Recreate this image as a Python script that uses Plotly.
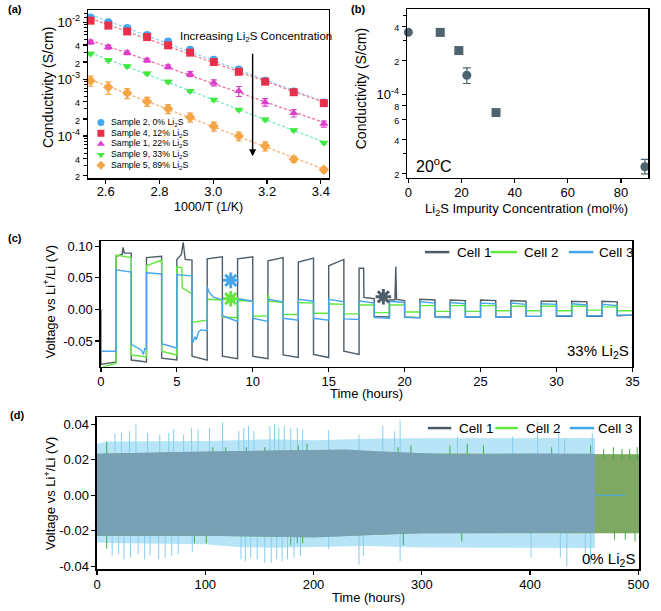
import numpy as np
import plotly.graph_objects as go

W, H = 661, 611
FONT = "Liberation Sans, Arial, Helvetica, sans-serif"

def px(x):
    return x / W

def py(y):
    return 1 - y / H

# ---------------- (a) conductivity vs 1000/T ----------------
inv_T = [2.544, 2.610, 2.680, 2.754, 2.832, 2.914, 3.002, 3.095, 3.193, 3.299, 3.411]
sig_s2 = [1.22e-2, 1.00e-2, 7.9e-3, 6.0e-3, 4.6e-3, 3.3e-3, 2.2e-3, 1.48e-3, 9.4e-4, 6.1e-4, 3.9e-4]
sig_s4 = [1.07e-2, 8.75e-3, 6.9e-3, 5.5e-3, 3.93e-3, 2.93e-3, 2.0e-3, 1.35e-3, 9.05e-4, 5.9e-4, 3.8e-4]
sig_s1 = [4.5e-3, 3.67e-3, 2.93e-3, 2.16e-3, 1.65e-3, 1.23e-3, 8.7e-4, 6.2e-4, 3.95e-4, 2.55e-4, 1.64e-4]
sig_s9 = [2.81e-3, 2.16e-3, 1.69e-3, 1.26e-3, 9.05e-4, 6.2e-4, 4.35e-4, 2.91e-4, 1.95e-4, 1.27e-4, 7.65e-5]
sig_s5 = [9.4e-4, 7.2e-4, 5.7e-4, 4.06e-4, 3.03e-4, 2.14e-4, 1.49e-4, 1.0e-4, 6.7e-5, 3.93e-5, 2.56e-5]
relerr_s2 = [0.04] * 11
relerr_s4 = [0.05] * 11
relerr_s1 = [0.08, 0.08, 0.08, 0.08, 0.08, 0.10, 0.12, 0.20, 0.15, 0.15, 0.12]
relerr_s9 = [0.05] * 11
relerr_s5 = [0.20, 0.25, 0.20, 0.18, 0.18, 0.18, 0.18, 0.18, 0.18, 0.12, 0.10]
labels_a = ["Sample 2, 0% Li<sub>2</sub>S", "Sample 4, 12% Li<sub>2</sub>S",
            "Sample 1, 22% Li<sub>2</sub>S", "Sample 9, 33% Li<sub>2</sub>S",
            "Sample 5, 89% Li<sub>2</sub>S"]
xticks_a = [2.6, 2.8, 3.0, 3.2, 3.4]

# ---------------- (b) conductivity vs Li2S content ----------------
conc_b = [0, 12, 19, 22, 33, 89]
sig_b = [3.56e-4, 3.55e-4, 2.45e-4, 1.48e-4, 6.9e-5, 2.28e-5]
err_b_plus = [0, 2.0e-5, 1.2e-5, 2.4e-5, 3e-6, 3.7e-6]
err_b_minus = [0, 2.0e-5, 1.2e-5, 2.3e-5, 3e-6, 3.1e-6]
sym_b = ["circle", "square", "square", "circle", "square", "circle"]
xticks_b = [0, 20, 40, 60, 80]

# ---------------- (c) 33% Li2S cycling (per 1 h half-cycle start/end) ----------------
c1_start = [-0.087, 0.084, -0.080, 0.082, -0.077, 0.079, -0.074, 0.080, -0.074, 0.080,
            -0.074, 0.077, -0.072, 0.075, -0.071, 0.069, -0.066, 0.065, -0.011, 0.015,
            -0.012, 0.016, -0.012, 0.015, -0.012, 0.015, -0.012, 0.014, -0.011, 0.013,
            -0.011, 0.013, -0.011, 0.013, -0.010]
c1_end = [-0.083, 0.089, -0.083, 0.084, -0.080, 0.078, -0.080, 0.083, -0.078, 0.083,
          -0.078, 0.082, -0.076, 0.081, -0.076, 0.079, -0.071, 0.017, -0.012, 0.014,
          -0.013, 0.015, -0.012, 0.014, -0.012, 0.014, -0.012, 0.013, -0.011, 0.013,
          -0.011, 0.012, -0.011, 0.012, -0.009]
c1_extra = {1: [(1.40, 0.087), (1.46, 0.098), (1.54, 0.089)],
            5: [(5.30, 0.087), (5.42, 0.106), (5.55, 0.079)],
            17: [(17.30, 0.065), (17.32, 0.019)],
            19: [(19.36, 0.015), (19.42, 0.068), (19.47, 0.016)]}
c2_start = [-0.092, 0.086, -0.072, 0.069, -0.066, 0.067, -0.020, 0.016, -0.012, 0.014,
            -0.011, 0.012, -0.008, 0.011, -0.006, 0.009, -0.007, 0.007, -0.005, 0.007,
            -0.004, 0.006, -0.003, 0.006, -0.003, 0.006, -0.002, 0.005, -0.002, 0.005,
            -0.002, 0.005, -0.001, 0.004, -0.002]
c2_end = [-0.085, 0.082, -0.075, 0.078, -0.072, 0.025, -0.017, 0.015, -0.013, 0.013,
          -0.010, 0.011, -0.008, 0.010, -0.006, 0.008, -0.007, 0.007, -0.005, 0.007,
          -0.004, 0.006, -0.003, 0.006, -0.003, 0.006, -0.002, 0.005, -0.002, 0.005,
          -0.002, 0.005, -0.001, 0.004, -0.002]
c2_extra = {5: [(5.33, 0.066), (5.35, 0.034)],
            11: [(11.03, 0.024), (11.10, 0.013)]}
c3_start = [-0.066, 0.0625, -0.055, 0.058, -0.054, 0.055, -0.048, 0.036, -0.010, 0.017,
            -0.014, 0.016, -0.014, 0.016, -0.014, 0.016, -0.015, 0.0135, -0.013, 0.013,
            -0.013, 0.012, -0.012, 0.011, -0.012, 0.010, -0.012, 0.010, -0.011, 0.009,
            -0.010, 0.009, -0.010, 0.008, -0.009]
c3_end = [-0.066, 0.059, -0.062, 0.056, -0.061, 0.053, -0.034, 0.015, -0.019, 0.013,
          -0.019, 0.012, -0.017, 0.013, -0.017, 0.012, -0.016, 0.010, -0.014, 0.011,
          -0.013, 0.010, -0.013, 0.009, -0.012, 0.009, -0.012, 0.008, -0.011, 0.008,
          -0.010, 0.007, -0.010, 0.006, -0.009]
c3_extra = {2: [(2.65, -0.064), (2.80, -0.071), (2.88, -0.062)],
            6: [(6.08, -0.052), (6.18, -0.043), (6.28, -0.048), (6.42, -0.036), (6.60, -0.032)],
            7: [(7.12, 0.027), (7.45, 0.019)]}
star_t = [8.55, 8.55, 18.6]
star_v = [0.046, 0.017, 0.020]
xticks_c = [0, 5, 10, 15, 20, 25, 30, 35]
yticks_c = [-0.05, 0.0, 0.05, 0.10]
yticktext_c = ["-0.05", "0.00", "0.05", "0.10"]

# ---------------- (d) 0% Li2S long cycling (envelopes + spikes) ----------------
d1_t = [0, 10, 100, 150, 200, 230, 260, 300, 330, 400, 460]
d1_up = [0.0233, 0.0235, 0.0246, 0.0250, 0.0257, 0.0257, 0.0248, 0.0235, 0.0229, 0.0235, 0.0233]
d1_lo = [-0.0228, -0.0228, -0.0228, -0.0232, -0.0237, -0.0228, -0.0222, -0.0213, -0.0212, -0.0210, -0.0210]
d2_t = [0, 100, 200, 300, 400, 460, 501]
d2_up = [0.0233, 0.0245, 0.0255, 0.0235, 0.0233, 0.0231, 0.0231]
d2_lo = [-0.0228, -0.0228, -0.0235, -0.0213, -0.0210, -0.0213, -0.0213]
d3_t = [0, 10, 100, 130, 160, 200, 250, 300, 400, 460]
d3_up = [0.0290, 0.0303, 0.0305, 0.0310, 0.0315, 0.0310, 0.0318, 0.0320, 0.0322, 0.0322]
d3_lo = [-0.0265, -0.0268, -0.0275, -0.0290, -0.0295, -0.0290, -0.0285, -0.0293, -0.0296, -0.0296]
spk3_t = [16.6, 22.6, 30, 36, 46.7, 58, 66.3, 70.8, 80, 87.4, 93.4, 104, 116, 131, 135.6, 140,
          145, 159.7, 164, 168, 173, 179, 185, 190, 214, 242, 264, 275, 280, 333, 384, 407,
          426.5, 432, 457.5,
          14, 20, 25, 31, 38, 44, 49, 57, 63, 69, 75, 88, 133, 137, 142, 148, 155, 161, 166,
          171, 176, 182, 188, 214, 242, 246, 280, 401, 428, 434, 451, 456]
spk3_v = [0.035, 0.035, 0.036, 0.040, 0.035, 0.034, 0.035, 0.037, 0.034, 0.038, 0.037, 0.038,
          0.041, 0.036, 0.038, 0.039, 0.036, 0.039, 0.040, 0.038, 0.039, 0.038, 0.038, 0.037,
          0.0365, 0.034, 0.039, 0.036, 0.042, 0.033, 0.033, 0.041, 0.039, 0.032, 0.035,
          -0.034, -0.033, -0.036, -0.035, -0.033, -0.036, -0.034, -0.036, -0.035, -0.034,
          -0.033, -0.032, -0.036, -0.037, -0.035, -0.036, -0.038, -0.038, -0.036, -0.037,
          -0.036, -0.035, -0.034, -0.030, -0.039, -0.034, -0.037, -0.035, -0.035, -0.040,
          -0.034, -0.039]
spk2_t = [9, 107, 119, 138, 155, 186, 194, 278, 290, 326, 342, 357, 420, 456, 468, 477, 485,
          492, 499, 9, 90, 101, 179, 185, 190, 283, 337, 478, 488, 497]
spk2_v = [0.030, 0.027, 0.027, 0.027, 0.027, 0.028, 0.029, 0.027, 0.028, 0.028, 0.029, 0.028,
          0.027, 0.028, 0.026, 0.027, 0.026, 0.026, 0.027, -0.030, -0.027, -0.027, -0.028,
          -0.027, -0.027, -0.028, -0.026, -0.025, -0.025, -0.026]
d3_tail_t = [460, 488]
d3_tail_v = [0.0, 0.0]
xticks_d = [0, 100, 200, 300, 400, 500]
yticks_d = [-0.04, -0.02, 0.0, 0.02, 0.04]
yticktext_d = ["-0.04", "-0.02", "0.00", "0.02", "0.04"]

# ---------------- colours ----------------
col_a = ["#3fa9f5", "#e8304a", "#dd3fcc", "#3ee83e", "#f5a545"]
col_a_fit = ["#8fd2f6", "#f27f8f", "#ee6fa8", "#7ae6cf", "#f5b070"]
sym_a = ["circle", "square", "triangle-up", "triangle-down", "diamond"]
C_GRAY, C_GREEN, C_BLUE = "#4f5d69", "#62e83c", "#45a6ec"
C_B = "#4d6470"

fig = go.Figure()

# ---- (a)
series_a = [sig_s2, sig_s4, sig_s1, sig_s9, sig_s5]
errs_a = [relerr_s2, relerr_s4, relerr_s1, relerr_s9, relerr_s5]
for i, ys in enumerate(series_a):
    coef = np.polyfit(inv_T, np.log10(ys), 1)
    xf = np.array([min(inv_T), max(inv_T)])
    fig.add_trace(go.Scatter(x=xf, y=10 ** np.polyval(coef, xf), mode="lines",
                             line=dict(color=col_a_fit[i], width=1.3, dash="3px,2px"),
                             xaxis="x", yaxis="y", showlegend=False, hoverinfo="skip"))
for i, ys in enumerate(series_a):
    err = [v * r for v, r in zip(ys, errs_a[i])]
    fig.add_trace(go.Scatter(x=inv_T, y=ys, mode="markers", cliponaxis=False,
                             marker=dict(symbol=sym_a[i], size=8, color=col_a[i]),
                             error_y=dict(type="data", array=err, color=col_a[i], thickness=1.2, width=3),
                             xaxis="x", yaxis="y", showlegend=False, name=labels_a[i]))

# ---- (b)
fig.add_trace(go.Scatter(x=conc_b, y=sig_b, mode="markers", cliponaxis=False,
                         marker=dict(symbol=sym_b, size=9, color=C_B),
                         error_y=dict(type="data", array=err_b_plus, arrayminus=err_b_minus,
                                      color=C_B, thickness=1.2, width=4),
                         xaxis="x2", yaxis="y2", showlegend=False))

# ---- (c)
def build_wave(starts, ends, extras, pre=None):
    xs, ys = [], []
    if pre is not None:
        xs.append(pre[0]); ys.append(pre[1])
    for k, (s, e) in enumerate(zip(starts, ends)):
        xs.append(k); ys.append(s)
        for (t, v) in extras.get(k, []):
            xs.append(t); ys.append(v)
        xs.append(k + 1); ys.append(e)
    return xs, ys

for starts, ends, extras, col, pre in [(c1_start, c1_end, c1_extra, C_GRAY, (0, 0.0)),
                                       (c2_start, c2_end, c2_extra, C_GREEN, None),
                                       (c3_start, c3_end, c3_extra, C_BLUE, None)]:
    xs, ys = build_wave(starts, ends, extras, pre)
    fig.add_trace(go.Scatter(x=xs, y=ys, mode="lines", line=dict(color=col, width=1.4),
                             xaxis="x3", yaxis="y3", showlegend=False, hoverinfo="skip"))
star_cols = [C_BLUE, C_GREEN, C_GRAY]
fig.add_trace(go.Scatter(x=star_t, y=star_v, mode="markers", cliponaxis=False,
                         marker=dict(symbol="asterisk-open", size=13, color=star_cols,
                                     line=dict(color=star_cols, width=3)),
                         xaxis="x3", yaxis="y3", showlegend=False, hoverinfo="skip"))

# ---- (d)
def band(t, up, lo, color):
    return go.Scatter(x=list(t) + list(t)[::-1], y=list(up) + list(lo)[::-1], fill="toself",
                      fillcolor=color, line=dict(width=0), mode="lines",
                      xaxis="x4", yaxis="y4", showlegend=False, hoverinfo="skip")

def spikes(ts, vs, color):
    xs, ys = [], []
    for t, v in zip(ts, vs):
        base = 0.02 if v > 0 else -0.02
        xs += [t, t, None]; ys += [base, v, None]
    return go.Scatter(x=xs, y=ys, mode="lines", line=dict(color=color, width=1),
                      xaxis="x4", yaxis="y4", showlegend=False, hoverinfo="skip")

fig.add_trace(band(d3_t, d3_up, d3_lo, "#b7e4f6"))
fig.add_trace(spikes(spk3_t, spk3_v, "#86cdf0"))
fig.add_trace(band(d2_t, d2_up, d2_lo, "#7ea864"))
fig.add_trace(spikes(spk2_t, spk2_v, "#3fae45"))
fig.add_trace(band(d1_t, d1_up, d1_lo, "#78a1b5"))
fig.add_trace(go.Scatter(x=d3_tail_t, y=d3_tail_v, mode="lines", line=dict(color=C_BLUE, width=1),
                         xaxis="x4", yaxis="y4", showlegend=False, hoverinfo="skip"))

# ---- legend markers for (a) on a full-page overlay axis
leg_x = [99] * 5
leg_y = [122, 132.8, 143.6, 154.4, 165.2]
fig.add_trace(go.Scatter(x=leg_x, y=leg_y, mode="markers",
                         marker=dict(symbol=sym_a, size=7, color=col_a),
                         xaxis="x5", yaxis="y5", showlegend=False, hoverinfo="skip"))

# ---------------- axes ----------------
def axc(**kw):
    d = dict(showline=True, linecolor="black", linewidth=1.5, mirror=True,
             ticks="outside", ticklen=4, tickwidth=1.2, tickcolor="black",
             showgrid=False, zeroline=False, fixedrange=True,
             tickfont=dict(family=FONT, size=13, color="black"))
    d.update(kw)
    return d

def small(s):
    return '<span style="font-size:9px">%s</span>' % s

ytv_a = [2e-5, 4e-5, 1e-4, 2e-4, 4e-4, 1e-3, 2e-3, 4e-3, 1e-2]
ytt_a = [small("2"), small("4"), "10<sup>-4</sup>", small("2"), small("4"), "10<sup>-3</sup>",
         small("2"), small("4"), "10<sup>-2</sup>"]
minor_a = [m * 10.0 ** e for e in (-5, -4, -3) for m in (3, 5, 6, 7, 8, 9)] + [1.2e-2, 1.4e-2]
ytv_b = [2e-5, 4e-5, 6e-5, 8e-5, 1e-4, 2e-4, 4e-4]
ytt_b = [small("2"), small("4"), small("6"), small("8"), "10<sup>-4</sup>", small("2"), small("4")]

fig.update_layout(
    width=W, height=H, margin=dict(l=0, r=0, t=0, b=0),
    paper_bgcolor="white", plot_bgcolor="rgba(0,0,0,0)",
    font=dict(family=FONT, size=13, color="black"),
    xaxis=axc(domain=[px(86), px(332)], anchor="y", range=[2.535, 3.430],
              tickvals=xticks_a, ticktext=["%.1f" % v for v in xticks_a], ticklabelstandoff=-3),
    yaxis=axc(domain=[py(178.3), py(8.5)], anchor="x", type="log", range=[-4.741, -1.791],
              tickvals=ytv_a, ticktext=ytt_a,
              minor=dict(tickmode="array", tickvals=minor_a, ticks="outside", ticklen=2.5,
                         tickcolor="black", tickwidth=1)),
    xaxis2=axc(domain=[px(412), px(658)], anchor="y2", range=[-0.4, 90.2],
               tickvals=xticks_b, ticktext=[str(v) for v in xticks_b], ticklabelstandoff=-2),
    yaxis2=axc(domain=[py(178), py(7.5)], anchor="x2", type="log", range=[-4.741, -3.246],
               tickvals=ytv_b, ticktext=ytt_b,
               minor=dict(tickmode="array", tickvals=[3e-5, 3e-4, 5e-4], ticks="outside",
                          ticklen=3, tickcolor="black", tickwidth=1)),
    xaxis3=axc(domain=[px(99), px(642)], anchor="y3", range=[0, 35],
               tickvals=xticks_c, ticktext=[str(v) for v in xticks_c], ticklabelstandoff=-2),
    yaxis3=axc(domain=[py(369), py(242)], anchor="x3", range=[-0.0906, 0.1078],
               tickvals=yticks_c, ticktext=yticktext_c),
    xaxis4=axc(domain=[px(95), px(649)], anchor="y4", range=[0, 500.9],
               tickvals=xticks_d, ticktext=[str(v) for v in xticks_d], ticklabelstandoff=-2),
    yaxis4=axc(domain=[py(574), py(420)], anchor="x4", range=[-0.04167, 0.0439],
               tickvals=yticks_d, ticktext=yticktext_d),
    xaxis5=dict(domain=[0, 1], range=[0, W], visible=False, fixedrange=True, anchor="y5"),
    yaxis5=dict(domain=[0, 1], range=[H, 0], visible=False, fixedrange=True, anchor="x5"),
    showlegend=False,
)

ann = []
def text(x, y, s, size=13, xanchor="center", yanchor="middle", angle=0, color="black", bold=False):
    if bold:
        s = "<b>%s</b>" % s
    ann.append(dict(x=px(x), y=py(y), xref="paper", yref="paper", text=s, showarrow=False,
                    xanchor=xanchor, yanchor=yanchor, textangle=angle,
                    font=dict(family=FONT, size=size, color=color)))

# panel labels
text(2, 7, "(a)", 11, xanchor="left", bold=True)
text(352, 7, "(b)", 11, xanchor="left", bold=True)
text(2, 239, "(c)", 11, xanchor="left", bold=True)
text(4, 418, "(d)", 11, xanchor="left", bold=True)
# axis titles
text(45, 87, "Conductivity (S/cm)", 14, angle=-90)
text(209, 207, "1000/T (1/K)", 12.5)
text(365, 88, "Conductivity (S/cm)", 14, angle=-90)
text(534, 210, "Li<sub>2</sub>S Impurity Concentration (mol%)", 13)
text(46, 303, "Voltage vs Li<sup>+</sup>/Li (V)", 13, angle=-90)
text(370, 396, "Time (hours)", 13)
text(47, 497, "Voltage vs Li<sup>+</sup>/Li (V)", 13, angle=-90)
text(372, 602, "Time (hours)", 13)
# (a) annotation + legend text
text(257, 35, "Increasing Li<sub>2</sub>S Concentration", 11.5)
for yy, lab in zip(leg_y, labels_a):
    text(107, yy, lab, 8.7, xanchor="left")
ann.append(dict(x=px(254), y=py(156), xref="paper", yref="paper", text="", showarrow=True,
                ax=0, ay=-104, arrowhead=2, arrowsize=1, arrowwidth=1.4, arrowcolor="black"))
# (b)
text(419, 165, "20<sup>o</sup>C", 16, xanchor="left")
# (c)
text(641, 354, "33% Li<sub>2</sub>S", 15, xanchor="right")
# (d)
text(647, 564, "0% Li<sub>2</sub>S", 15, xanchor="right")

shapes = []
def leg_line(x0, x1, y, color):
    shapes.append(dict(type="line", xref="paper", yref="paper", x0=px(x0), x1=px(x1),
                       y0=py(y), y1=py(y), line=dict(color=color, width=2.5)))

for (l0, l1, tx, lab, col) in [(430, 455, 461, "Cell 1", C_GRAY), (497, 524, 529, "Cell 2", C_GREEN),
                               (577, 602, 606, "Cell 3", C_BLUE)]:
    leg_line(l0, l1, 253, col)
    text(tx, 253, lab, 13.5, xanchor="left")
for (l0, l1, tx, lab, col) in [(433, 457, 463, "Cell 1", C_GRAY), (502, 525, 531, "Cell 2", C_GREEN),
                               (578, 603, 605, "Cell 3", C_BLUE)]:
    leg_line(l0, l1, 431, col)
    text(tx, 431, lab, 13.5, xanchor="left")

fig.update_layout(annotations=ann, shapes=shapes)
fig.write_html("out.html", config={"displayModeBar": False, "staticPlot": True},
               post_script="document.body.style.margin='0';document.body.style.overflow='hidden';")
